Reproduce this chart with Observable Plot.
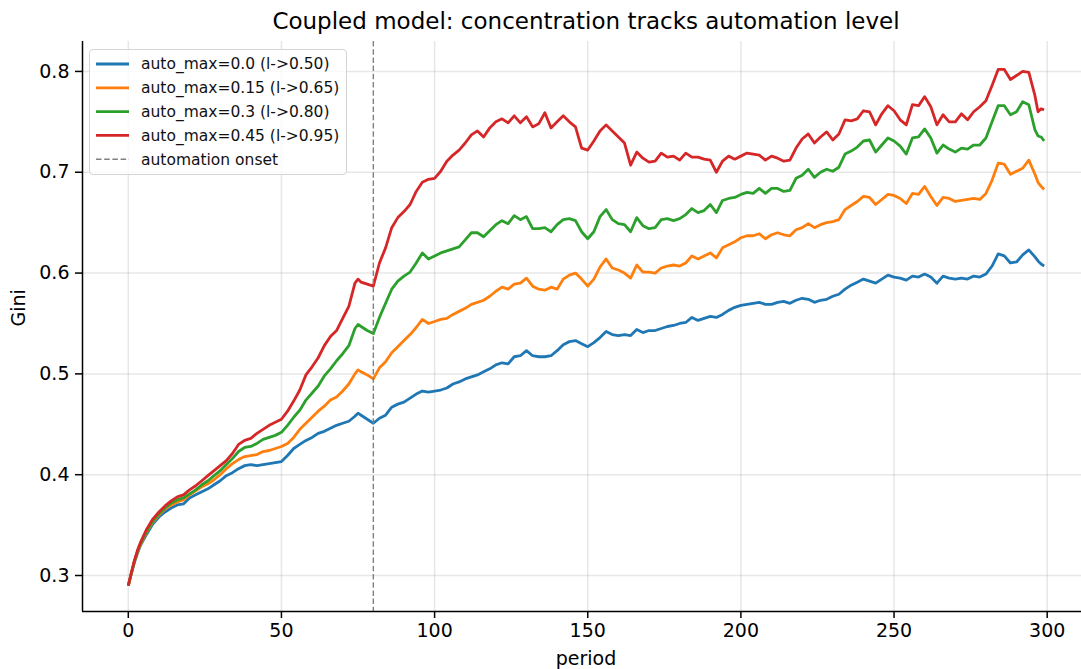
<!DOCTYPE html>
<html>
<head>
<meta charset="utf-8">
<script src="https://cdn.jsdelivr.net/npm/d3@7"></script>
<script src="https://cdn.jsdelivr.net/npm/@observablehq/plot@0.6"></script>
<style>
  html, body { margin: 0; padding: 0; background: #fff; }
  #wrap { position: relative; width: 1081px; height: 669px; overflow: hidden; font-family: "DejaVu Sans", sans-serif; }
  #legend { position: absolute; left: 89px; top: 49px; width: 258px; height: 126px; box-sizing: border-box;
            border: 1.3px solid #d4d4d4; border-radius: 4px; background: rgba(255,255,255,0.8); }
</style>
</head>
<body>
<div id="wrap"></div>
<script>
const periods = [0,1,2,3,4,6,8,10,12,14,
16,18,20,22,24,26,28,30,32,34,
36,38,40,42,44,46,48,50,52,54,
56,58,60,62,64,66,68,70,72,74,
75,76,78,80,82,84,86,88,90,92,
94,96,98,100,102,104,106,108,110,112,
114,116,118,120,122,124,126,128,130,132,
134,136,138,140,142,144,146,148,150,152,
154,156,158,160,162,164,166,168,170,172,
174,176,178,180,182,184,186,188,190,192,
194,196,198,200,202,204,206,208,210,212,
214,216,218,220,222,224,226,228,230,232,
234,236,238,240,242,244,246,248,250,252,
254,256,258,260,262,264,266,268,270,272,
274,276,278,280,282,284,286,288,290,292,
294,296,297,298,299];

const gini_auto000 = [.290,.302,.313,.322,.330,.341,.351,.358,.363,.367,
.370,.371,.377,.380,.383,.386,.390,.394,.399,.402,
.406,.409,.410,.409,.410,.411,.412,.413,.419,.426,
.430,.434,.437,.441,.443,.446,.449,.451,.453,.458,
.461,.459,.455,.451,.456,.459,.467,.470,.472,.476,
.480,.483,.482,.483,.484,.486,.490,.492,.495,.497,
.499,.502,.505,.509,.511,.510,.517,.518,.523,.518,
.517,.517,.518,.523,.529,.532,.533,.530,.527,.531,
.536,.542,.539,.538,.539,.538,.544,.541,.543,.543,
.545,.547,.548,.550,.551,.556,.553,.555,.557,.556,
.559,.563,.566,.568,.569,.570,.571,.569,.569,.571,
.572,.570,.573,.575,.574,.571,.573,.574,.577,.579,
.584,.588,.591,.594,.592,.590,.594,.598,.596,.595,
.593,.597,.596,.599,.596,.590,.597,.595,.594,.595,
.594,.597,.596,.599,.607,.619,.617,.610,.611,.618,
.623,.616,.612,.609,.607];

const gini_auto015 = [.290,.302,.314,.323,.331,.343,.353,.360,.366,.370,
.373,.375,.380,.384,.388,.391,.395,.400,.406,.411,
.415,.418,.419,.420,.423,.424,.426,.428,.431,.437,
.445,.451,.457,.463,.468,.474,.477,.483,.490,.500,
.504,.502,.499,.495,.506,.512,.521,.527,.533,.539,
.546,.554,.550,.552,.554,.555,.559,.562,.565,.569,
.571,.573,.577,.582,.586,.584,.589,.590,.595,.587,
.584,.583,.586,.584,.594,.598,.600,.594,.587,.594,
.606,.614,.605,.603,.600,.595,.608,.601,.601,.600,
.605,.607,.608,.607,.610,.617,.614,.617,.620,.615,
.625,.628,.631,.635,.637,.637,.639,.634,.638,.640,
.638,.637,.643,.645,.649,.645,.648,.650,.651,.653,
.663,.667,.671,.676,.675,.668,.673,.678,.677,.674,
.669,.679,.678,.686,.676,.667,.675,.674,.671,.672,
.673,.674,.673,.679,.692,.709,.708,.698,.701,.704,
.712,.698,.690,.686,.683];

const gini_auto030 = [.290,.302,.314,.324,.332,.344,.354,.361,.367,.372,
.375,.377,.381,.385,.390,.394,.399,.404,.410,.416,
.423,.427,.428,.431,.435,.437,.439,.442,.449,.457,
.464,.474,.481,.488,.498,.505,.513,.520,.528,.545,
.549,.547,.543,.540,.556,.570,.584,.592,.597,.601,
.610,.620,.614,.617,.620,.622,.624,.626,.633,.640,
.640,.636,.642,.648,.652,.649,.657,.653,.656,.644,
.644,.645,.641,.648,.653,.654,.652,.641,.634,.641,
.656,.663,.653,.649,.648,.641,.655,.647,.644,.645,
.653,.654,.652,.654,.658,.664,.660,.662,.668,.660,
.672,.674,.675,.678,.680,.679,.684,.679,.684,.684,
.681,.682,.694,.697,.703,.695,.700,.703,.701,.705,
.718,.721,.725,.731,.732,.720,.727,.734,.731,.726,
.718,.734,.735,.743,.734,.719,.727,.723,.720,.724,
.723,.727,.727,.734,.750,.766,.766,.757,.760,.770,
.767,.742,.736,.735,.731];

const gini_auto045 = [.290,.303,.315,.325,.333,.346,.356,.363,.369,.374,
.378,.380,.385,.389,.394,.399,.404,.409,.414,.421,
.430,.434,.436,.441,.445,.449,.452,.455,.463,.473,
.484,.499,.507,.516,.528,.537,.543,.555,.567,.590,
.594,.591,.589,.587,.610,.625,.645,.655,.661,.668,
.681,.690,.693,.694,.701,.711,.717,.722,.729,.737,
.741,.735,.744,.750,.753,.749,.756,.749,.755,.745,
.748,.759,.744,.750,.756,.750,.745,.724,.722,.731,
.741,.747,.741,.735,.729,.707,.720,.714,.710,.711,
.719,.715,.716,.712,.719,.715,.715,.713,.712,.700,
.711,.716,.713,.716,.719,.718,.717,.712,.716,.714,
.711,.712,.724,.733,.738,.729,.735,.740,.732,.738,
.752,.751,.753,.761,.760,.747,.758,.766,.761,.752,
.747,.767,.766,.775,.765,.747,.757,.750,.750,.758,
.752,.760,.765,.771,.786,.802,.802,.792,.796,.800,
.799,.776,.760,.763,.762];

const seriesNames = ["auto_max=0.0 (l->0.50)", "auto_max=0.15 (l->0.65)", "auto_max=0.3 (l->0.80)", "auto_max=0.45 (l->0.95)"];
const seriesColors = ["#1f77b4", "#ff7f0e", "#2ca02c", "#d62728"];
const seriesValues = [gini_auto000, gini_auto015, gini_auto030, gini_auto045];
const onsetPeriod = [80];
const onsetLabel = "automation onset";
const xTicks = [0, 50, 100, 150, 200, 250, 300];
const yTicks = [0.3, 0.4, 0.5, 0.6, 0.7, 0.8];
const titleText = "Coupled model: concentration tracks automation level";
const xLabel = "period";
const yLabel = "Gini";

const xDomain = [-14.95, 311.2];
const yDomain = [0.2643, 0.8297];

const lineMarks = seriesValues.map((vals, k) =>
  Plot.line(periods.map((p, i) => ({period: p, gini: vals[i]})), {
    x: "period", y: "gini", stroke: seriesColors[k], strokeWidth: 2.8,
    strokeLinejoin: "round", strokeLinecap: "butt"
  })
);

const chart = Plot.plot({
  width: 1081,
  height: 669,
  marginLeft: 82,
  marginRight: 0,
  marginTop: 41,
  marginBottom: 58,
  style: {fontFamily: "DejaVu Sans, sans-serif", fontSize: "19px", background: "white", color: "black", overflow: "visible"},
  x: {domain: xDomain, label: null},
  y: {domain: yDomain, label: null},
  marks: [
    Plot.gridX(xTicks, {stroke: "#b0b0b0", strokeOpacity: 0.3, strokeWidth: 1.5}),
    Plot.gridY(yTicks, {stroke: "#b0b0b0", strokeOpacity: 0.3, strokeWidth: 1.5}),
    ...lineMarks,
    Plot.ruleX(onsetPeriod, {stroke: "#808080", strokeWidth: 1.4, strokeDasharray: "5.5,2.7"}),
    Plot.ruleX([xDomain[0]], {stroke: "black", strokeWidth: 1.5}),
    Plot.ruleY([yDomain[0]], {stroke: "black", strokeWidth: 1.5}),
    Plot.axisX(xTicks, {tickSize: 7, tickPadding: 5, fontSize: 19, tickFormat: d3.format("d"), strokeWidth: 1.5}),
    Plot.axisY(yTicks, {tickSize: 7, tickPadding: 6, fontSize: 19, tickFormat: d3.format(".1f"), strokeWidth: 1.5}),
    Plot.text([titleText], {text: d => d, frameAnchor: "top", dy: -20, dx: 4, fontSize: 23, lineAnchor: "middle"}),
    Plot.text([xLabel], {text: d => d, frameAnchor: "bottom", dy: 47, dx: 4, fontSize: 19, lineAnchor: "middle"}),
    Plot.text([yLabel], {text: d => d, frameAnchor: "left", dx: -64, rotate: -90, fontSize: 19, lineAnchor: "middle"})
  ]
});

const wrap = document.getElementById("wrap");
wrap.appendChild(chart);

// Legend
const legend = document.createElement("div");
legend.id = "legend";
wrap.appendChild(legend);
const lsvg = d3.select(legend).append("svg").attr("width", 256).attr("height", 124)
  .style("position", "absolute").style("left", "0px").style("top", "0px")
  .style("font-family", "DejaVu Sans, sans-serif");
const entries = seriesNames.map((n, i) => ({label: n, color: seriesColors[i], dash: null}))
  .concat([{label: onsetLabel, color: "#808080", dash: "5.5,2.7"}]);
entries.forEach((e, i) => {
  const y = 14 + i * 23.8;
  lsvg.append("line").attr("x1", 6).attr("x2", 39).attr("y1", y).attr("y2", y)
    .attr("stroke", e.color).attr("stroke-width", e.dash ? 1.4 : 2.8)
    .attr("stroke-dasharray", e.dash);
  lsvg.append("text").attr("x", 51).attr("y", y).attr("dy", "0.35em")
    .attr("font-size", 15.5).attr("fill", "#111").text(e.label);
});
</script>
</body>
</html>
